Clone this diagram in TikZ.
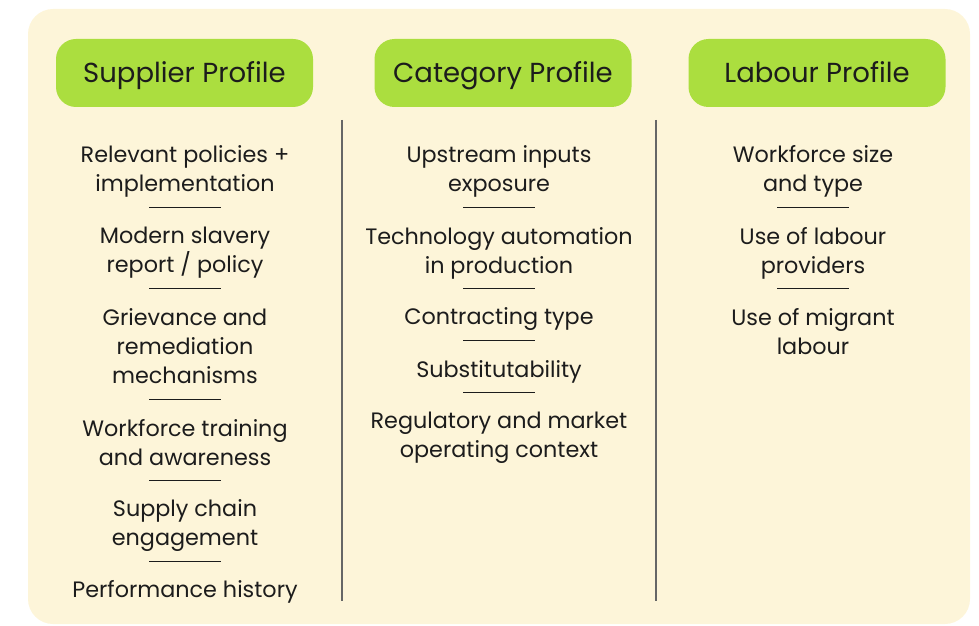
\documentclass[tikz,border=0pt]{standalone}
\usepackage{fontspec}
\setmainfont{Poppins}
\usepackage{xcolor}
\definecolor{cream}{RGB}{253,245,217}
\definecolor{lime}{RGB}{171,222,63}
\definecolor{ink}{RGB}{28,28,28}
\begin{document}
\begin{tikzpicture}[x=1pt,y=1pt,
    head/.style={fill=lime,rounded corners=20pt,minimum width=257pt,minimum height=68pt,inner sep=0pt,text height=26pt,text depth=6pt,text=ink,font=\fontsize{27.5}{32}\selectfont},
    item/.style={align=center,inner sep=0pt,text=ink,font=\fontsize{22.3}{29}\selectfont},
    rule/.style={fill=ink,minimum width=72pt,minimum height=1pt,inner sep=0pt},
    divider/.style={draw=black!60,line width=1.5pt}]
  \useasboundingbox (0,0) rectangle (979,625);
  \fill [cream,rounded corners=25pt] (28,1) rectangle (970,616);
  \node [head] (supplier) at (184.5,552) {Supplier Profile};
  \node [head] (category) at (503,552) {Category Profile};
  \node [head] (labour) at (817,552) {Labour Profile};
  \coordinate (d1top) at (342,505);
  \coordinate (d1bot) at (342,24);
  \coordinate (d2top) at (656,505);
  \coordinate (d2bot) at (656,24);
  \draw [divider] (d1top) -- (d1bot);
  \draw [divider] (d2top) -- (d2bot);
  \node [item] (policies) at (185,454) {Relevant policies +\\implementation};
  \node [item] (slavery) at (185,372) {Modern slavery\\report / policy};
  \node [item] (grievance) at (185,278.5) {Grievance and\\remediation\\mechanisms};
  \node [item] (training) at (185,182.5) {Workforce training\\and awareness};
  \node [item] (engagement) at (185,99.5) {Supply chain\\engagement};
  \node [item] (history) at (185,33.5) {Performance history};
  \foreach \y [count=\i] in {418,337,226,145,64}
    \node [rule] (sup\i) at (185,\y) {};
  \node [item] (upstream) at (499,454) {Upstream inputs\\exposure};
  \node [item] (automation) at (499,372) {Technology automation\\in production};
  \node [item] (contracting) at (499,305.5) {Contracting type};
  \node [item] (substitute) at (499,253.5) {Substitutability};
  \node [item] (regulatory) at (499,187) {Regulatory and market\\operating context};
  \foreach \y [count=\i] in {418,337,285,233}
    \node [rule] (cat\i) at (499,\y) {};
  \node [item] (workforce) at (813,454) {Workforce size\\and type};
  \node [item] (providers) at (813,372) {Use of labour\\providers};
  \node [item] (migrant) at (813,293) {Use of migrant\\labour};
  \foreach \y [count=\i] in {418,337}
    \node [rule] (lab\i) at (813,\y) {};
\end{tikzpicture}
\end{document}
